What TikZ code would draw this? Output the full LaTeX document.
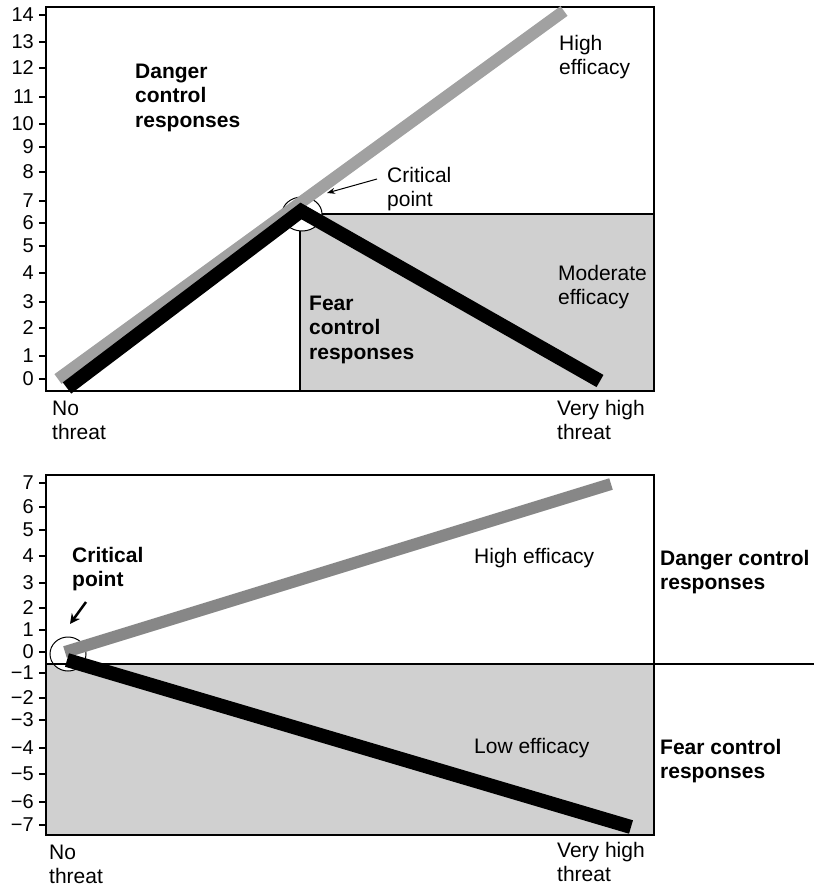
\documentclass[tikz,border=0pt]{standalone}
\usepackage{fontspec}
\setmainfont{Liberation Sans}
\usetikzlibrary{arrows.meta,shapes.geometric}

\definecolor{shadefill}{gray}{0.816}
\definecolor{lightline}{gray}{0.63}
\definecolor{darkline}{gray}{0.53}

% multi-line labels are placed by the baseline of their last line
\tikzset{
  frame/.style={line width=2pt},
  tickmark/.style={line width=1.5pt},
  ticklbl/.style={anchor=east, inner sep=0pt, font=\fontsize{20}{22}\selectfont},
  lbl/.style={anchor=base west, inner sep=0pt, align=left, font=\fontsize{21}{24.5}\selectfont},
  blbl/.style={anchor=base west, inner sep=0pt, align=left, font=\fontsize{21}{24.5}\selectfont\bfseries},
  cpoint/.style={ellipse, draw, line width=1pt, fill=white, inner sep=0pt},
  efficacyline/.style={line width=12pt, line cap=butt},
  fearline/.style={line width=14pt, line cap=butt, line join=miter, black},
}

\begin{document}
\begin{tikzpicture}[x=1pt, y=-1pt]
\useasboundingbox (0,0) rectangle (814,887);

% ---------------- upper chart ----------------
\fill[shadefill] (300,214) rectangle (654,391);
\draw[frame] (46,7) rectangle (654,391);
\draw[frame] (300,391) -- (300,214) -- (654,214);
\foreach \v/\y in {14/15,13/42,12/68,11/97,10/124,9/147,8/172,7/201,6/223,5/246,4/273,3/302,2/328,1/356,0/379}{
  \node[ticklbl] (ta\v) at (34,\y) {\v};
  \draw[tickmark] (39,\y) -- (46,\y);
}
\node[cpoint, minimum width=40pt, minimum height=34pt] (cpa) at (302,214) {};

\coordinate (ga0) at (58,379);
\coordinate (ga1) at (564,11);
\coordinate (ba0) at (67,388);
\coordinate (ba1) at (301,211);
\coordinate (ba2) at (600,381);
\draw[efficacyline, lightline] (ga0) -- (ga1);
\draw[fearline] (ba0) -- (ba1) -- (ba2);

\coordinate (arra0) at (377,179);
\coordinate (arra1) at (327,193);
\draw[line width=1pt, -{Stealth[length=8pt, width=6pt]}] (arra0) -- (arra1);

\node[blbl] (dcra) at (135,127) {Danger\\control\\responses};
\node[lbl] (hea) at (559,74.5) {High\\efficacy};
\node[lbl] (cpla) at (387,206.5) {Critical\\point};
\node[lbl] (mea) at (558,304.5) {Moderate\\efficacy};
\node[blbl] (fcra) at (309,359) {Fear\\control\\responses};
\node[lbl] (nta) at (52,439.5) {No\\threat};
\node[lbl] (vhta) at (557,439.5) {Very high\\threat};

% ---------------- lower chart ----------------
\fill[shadefill] (46,664) rectangle (654,835);
\draw[frame] (46,475) rectangle (654,835);
\foreach \v/\y [count=\i] in {7/483,6/507,5/530,4/556,3/583,2/608,1/630,0/652,−1/673,−2/698,−3/720,−4/748,−5/774,−6/802,−7/825}{
  \node[ticklbl] (tb\i) at (34,\y) {\v};
  \draw[tickmark] (39,\y) -- (46,\y);
}
\node[cpoint, minimum width=36pt, minimum height=34pt] (cpb) at (68,654) {};
\draw[frame] (46,664) -- (814,664);

\coordinate (gb0) at (65,652);
\coordinate (gb1) at (611,484);
\coordinate (bb0) at (67,660);
\coordinate (bb1) at (631,827);
\draw[efficacyline, darkline] (gb0) -- (gb1);
\draw[fearline] (bb0) -- (bb1);

\coordinate (arrb0) at (86,602);
\coordinate (arrb1) at (70,624);
\draw[line width=2.5pt, -{Stealth[length=10pt, width=10pt]}] (arrb0) -- (arrb1);

\node[blbl] (cplb) at (72,586.5) {Critical\\point};
\node[lbl] (heb) at (474,563) {High efficacy};
\node[lbl] (leb) at (474,753) {Low efficacy};
\node[blbl] (dcrb) at (660,589.5) {Danger control\\responses};
\node[blbl] (fcrb) at (660,778.5) {Fear control\\responses};
\node[lbl] (ntb) at (49,883.5) {No\\threat};
\node[lbl] (vhtb) at (557,881.5) {Very high\\threat};
\end{tikzpicture}
\end{document}
